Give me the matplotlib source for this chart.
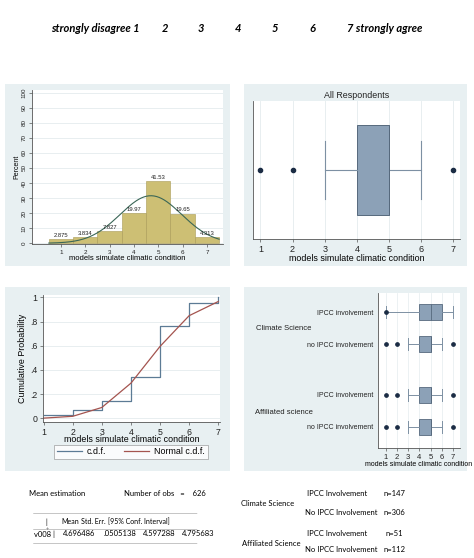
import matplotlib
matplotlib.use("Agg")
import matplotlib.pyplot as plt
import numpy as np
from matplotlib.patches import Rectangle
from matplotlib.lines import Line2D

# --- data ---
scale = [1, 2, 3, 4, 5, 6, 7]
scale_labels = ['strongly disagree 1', '2', '3', '4', '5', '6', '7 strongly agree']
pct = [2.875, 3.834, 7.827, 19.97, 41.53, 19.65, 4.313]
pct_labels = ['2.875', '3.834', '7.827', '19.97', '41.53', '19.65', '4.313']
mean_est = 4.696486
std_err = .0505138
ci_lo = 4.597288
ci_hi = 4.795683
n_obs = 626
normal_cdf = [0.002, 0.017, 0.090, 0.291, 0.595, 0.849, 0.966]

# box plot stats (all respondents)
all_box = dict(q1=4, med=5, q3=5, whislo=3, whishi=6, fliers=[1, 2, 7])

# box plot stats by group
groups = ['IPCC involvement', 'no IPCC involvement', 'IPCC involvement', 'no IPCC involvement']
grp_q1 = [4, 4, 4, 4]
grp_med = [5, 5, 5, 5]
grp_q3 = [6, 5, 5, 5]
grp_lo = [1, 3, 3, 3]
grp_hi = [7, 6, 6, 6]
grp_fliers = [[1], [1, 2, 7], [1, 2, 7], [1, 2, 7]]
fields = ['Climate Science', 'Affiliated science']

# sample sizes table
sub = ['IPCC Involvement', 'No IPCC Involvement', 'IPCC Involvement', 'No IPCC Involvement']
sub_n = [147, 306, 51, 112]

W, H = 474, 558
fig = plt.figure(figsize=(W / 100, H / 100), dpi=100)
fig.patch.set_facecolor('white')
plt.rcParams['font.family'] = ['Liberation Sans', 'DejaVu Sans']

bg = '#e8f0f2'
khaki = '#cdbf74'
box_fill = '#8ca1b7'
box_edge = '#56697d'
dot = '#1b2c44'
grid_c = '#e4ebee'


def rect(x0, y0, x1, y1):
    return [x0 / W, 1 - y1 / H, (x1 - x0) / W, (y1 - y0) / H]


def fy(y):
    return 1 - y / H


def panel_bg(x0, y0, x1, y1):
    fig.add_artist(Rectangle((x0 / W, 1 - y1 / H), (x1 - x0) / W, (y1 - y0) / H,
                             transform=fig.transFigure, facecolor=bg, edgecolor='none', zorder=0))


def stata_axes(ax, fs):
    for s in ['top', 'right']:
        ax.spines[s].set_visible(False)
    for s in ['left', 'bottom']:
        ax.spines[s].set_color('#555555')
        ax.spines[s].set_linewidth(0.6)
    ax.tick_params(colors='#555555', labelcolor='#222222', labelsize=fs,
                   width=0.5, length=2.5, pad=1.5)


# --- top scale text ---
top_x = [51, 165, 201, 238, 275, 312, 347]
top_ha = ['left', 'center', 'center', 'center', 'center', 'center', 'left']
for lab, x, ha in zip(scale_labels, top_x, top_ha):
    fig.text(x / W, fy(28.5), lab, ha=ha, va='center', fontsize=8,
             fontweight='bold', fontstyle='italic', family=['Lato', 'DejaVu Sans'])

# --- panel 1: histogram ---
panel_bg(5, 84, 230, 266)
ax1 = fig.add_axes(rect(32, 90, 223, 244))
stata_axes(ax1, 4.5)
ax1.bar(scale, pct, width=1, color=khaki, edgecolor='#a89a55', linewidth=0.4, zorder=2)
for x, v, lab in zip(scale, pct, pct_labels):
    ax1.text(x, v + 0.8, lab, ha='center', va='bottom', fontsize=4.2, color='#222222', zorder=4)
sd = std_err * np.sqrt(n_obs)
xs = np.linspace(0.5, 7.5, 200)
dens = 100 * np.exp(-0.5 * ((xs - mean_est) / sd) ** 2) / (sd * np.sqrt(2 * np.pi))
ax1.plot(xs, dens, color='#3a6656', lw=0.8, zorder=3)
ax1.set_xlim(-0.19, 7.66)
ax1.set_ylim(-0.5, 101.8)
ax1.set_xticks(scale)
ax1.set_yticks(range(0, 101, 10))
ax1.set_yticklabels([str(v) for v in range(0, 101, 10)], rotation=90, va='center')
ax1.yaxis.grid(True, color=grid_c, lw=0.6)
ax1.set_axisbelow(True)
ax1.set_ylabel('Percent', fontsize=5, labelpad=1)
ax1.set_xlabel('models simulate climatic condition', fontsize=5.5, labelpad=0)

# --- panel 2: box plot, all respondents ---
panel_bg(244, 84, 467, 266)
ax2 = fig.add_axes(rect(253, 101, 460, 239))
stata_axes(ax2, 6.5)
ax2.tick_params(axis='y', left=False, labelleft=False)
ax2.bxp([all_box], positions=[0.5], widths=[0.645], capwidths=[0.42], vert=False,
        patch_artist=True,
        boxprops=dict(facecolor=box_fill, edgecolor=box_edge, linewidth=0.7),
        medianprops=dict(color=box_edge, linewidth=0.7),
        whiskerprops=dict(color='#7d90a3', linewidth=0.8),
        capprops=dict(color='#7d90a3', linewidth=0.8),
        flierprops=dict(marker='o', markersize=3, markerfacecolor=dot, markeredgecolor=dot))
ax2.set_ylim(0, 1)
ax2.set_xlim(0.77, 7.21)
ax2.set_xticks(scale)
ax2.xaxis.grid(True, color=grid_c, lw=0.6)
ax2.set_axisbelow(True)
ax2.set_xlabel('models simulate climatic condition', fontsize=6.4, labelpad=0)
fig.text(356.5 / W, fy(95), 'All Respondents', ha='center', va='center', fontsize=6.4, color='#222222')

# --- panel 3: cumulative distribution ---
panel_bg(5, 287, 230, 471)
ax3 = fig.add_axes(rect(43, 295, 220, 422))
stata_axes(ax3, 6.3)
ecdf = np.cumsum(pct) / 100
l1, = ax3.step(scale, ecdf, where='post', color='#5c7b95', lw=0.9)
l2, = ax3.plot(scale, normal_cdf, color='#a4544f', lw=0.9)
ax3.set_xlim(0.98, 7.06)
ax3.set_ylim(-0.03, 1.02)
ax3.set_xticks(scale)
ax3.set_yticks([0, .2, .4, .6, .8, 1])
ax3.set_yticklabels(['0', '.2', '.4', '.6', '.8', '1'])
ax3.yaxis.grid(True, color=grid_c, lw=0.6)
ax3.set_axisbelow(True)
ax3.set_ylabel('Cumulative Probability', fontsize=6.4, labelpad=2)
ax3.set_xlabel('models simulate climatic condition', fontsize=6.4, labelpad=-1)
leg = fig.legend([l1, l2], ['c.d.f.', 'Normal c.d.f.'], ncol=2, loc='center',
                 bbox_to_anchor=(131 / W, fy(452)), fontsize=6.4, frameon=True,
                 fancybox=False, edgecolor='#888888', handlelength=2.8,
                 columnspacing=2.0, borderpad=0.3, handletextpad=0.6)
leg.get_frame().set_linewidth(0.5)

# --- panel 4: box plots by group ---
panel_bg(244, 287, 467, 471)
ax4 = fig.add_axes(rect(378, 293, 460, 448))
stata_axes(ax4, 5.5)
pos = [1, 2, 3.58, 4.58]
stats = [dict(q1=a, med=b, q3=c, whislo=d, whishi=e, fliers=f)
         for a, b, c, d, e, f in zip(grp_q1, grp_med, grp_q3, grp_lo, grp_hi, grp_fliers)]
ax4.bxp(stats, positions=pos, widths=0.5, capwidths=0.36, vert=False, patch_artist=True,
        boxprops=dict(facecolor=box_fill, edgecolor=box_edge, linewidth=0.6),
        medianprops=dict(color=box_edge, linewidth=0.6),
        whiskerprops=dict(color='#7d90a3', linewidth=0.7),
        capprops=dict(color='#7d90a3', linewidth=0.7),
        flierprops=dict(marker='o', markersize=2.4, markerfacecolor=dot, markeredgecolor=dot))
ax4.set_ylim(5.24, 0.4)
ax4.set_xlim(0.33, 7.62)
ax4.set_xticks(scale)
ax4.set_yticks(pos)
ax4.set_yticklabels(groups, fontsize=5)
ax4.tick_params(axis='y', left=False, pad=1)
ax4.xaxis.grid(True, color=grid_c, lw=0.5)
ax4.set_axisbelow(True)
ax4.set_xlabel('models simulate climatic condition', fontsize=5, labelpad=0)
fig.text(256 / W, fy(329), fields[0], ha='left', va='center', fontsize=5.5, color='#222222')
fig.text(255 / W, fy(412), fields[1], ha='left', va='center', fontsize=5.5, color='#222222')

# --- bottom summary text ---
cal = ['Lato', 'DejaVu Sans']
fs = 5.5
fig.text(29 / W, fy(494), 'Mean estimation', fontsize=fs, va='center', family=cal)
fig.text(124 / W, fy(494), 'Number of obs   =    %d' % n_obs, fontsize=fs, va='center', family=cal)
head_x = [45, 61, 81, 108]
head_t = ['|', 'Mean', 'Std. Err.', '[95% Conf. Interval]']
for x, t in zip(head_x, head_t):
    fig.text(x / W, fy(522), t, fontsize=5, va='center', family=cal)
row_x = [34, 63, 104, 143, 182]
row_t = ['v008 |', '%.6f' % mean_est, ('%.7f' % std_err)[1:], '%.6f' % ci_lo, '%.6f' % ci_hi]
for x, t in zip(row_x, row_t):
    fig.text(x / W, fy(534), t, fontsize=fs, va='center', family=cal)
for y in [512.5, 529, 543]:
    fig.add_artist(Line2D([33 / W, 197 / W], [fy(y), fy(y)], transform=fig.transFigure,
                          color='#666666', lw=0.4, linestyle=(0, (1.2, 0.6))))
fig.text(47 / W, fy(529), '+', fontsize=4, va='center', ha='center', color='#666666', family=cal)

sub_y = [494, 512.5, 533, 550]
sub_x = [307, 305, 307, 305]
n_x = [383, 383, 385, 383]
fig.text(241 / W, fy(503), 'Climate Science', fontsize=fs, va='center', family=cal)
fig.text(242 / W, fy(543.5), 'Affiliated Science', fontsize=fs, va='center', family=cal)
for t, n, y, x, nx in zip(sub, sub_n, sub_y, sub_x, n_x):
    fig.text(x / W, fy(y), t, fontsize=fs, va='center', family=cal)
    fig.text(nx / W, fy(y), 'n=%d' % n, fontsize=fs, va='center', family=cal)

fig.savefig('out.png', dpi=100, facecolor='white')
